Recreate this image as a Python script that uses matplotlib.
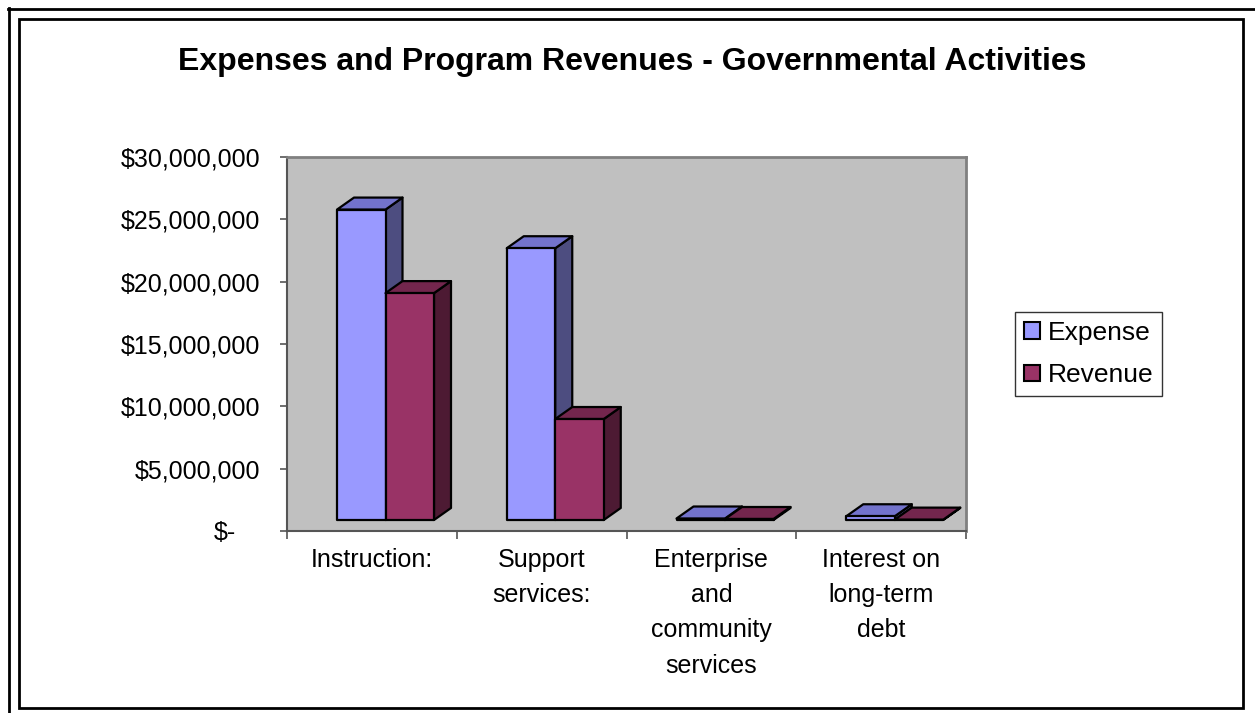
import matplotlib
matplotlib.use("Agg")
import matplotlib.pyplot as plt
from matplotlib.patches import Polygon, Patch
from matplotlib.lines import Line2D
from matplotlib.transforms import ScaledTranslation

plt.rcParams['font.family'] = ['Liberation Sans', 'DejaVu Sans']

# ---- data ----
categories = ["Instruction:", "Support\nservices:", "Enterprise\nand\ncommunity\nservices",
              "Interest on\nlong-term\ndebt"]
series_names = ["Expense", "Revenue"]
expense = [24.9e6, 21.8e6, 0.12e6, 0.30e6]
revenue = [18.2e6, 8.1e6, 0.08e6, 0.03e6]
ytick_values = [0, 5e6, 10e6, 15e6, 20e6, 25e6, 30e6]
ytick_labels = ["$-", "$5,000,000", "$10,000,000", "$15,000,000", "$20,000,000",
                "$25,000,000", "$30,000,000"]
title = "Expenses and Program Revenues - Governmental Activities"

front_colors = ["#9999FF", "#993366"]
top_colors = ["#7373CC", "#73264D"]
side_colors = ["#4D4D80", "#4D1A33"]

W, H = 1255, 713
fig = plt.figure(figsize=(W / 100, H / 100), dpi=100)
fig.patch.set_facecolor("white")

ax = fig.add_axes([287 / W, 1 - 531 / H, (966 - 287) / W, (531 - 157) / H])
ax.set_facecolor("#C0C0C0")
ax.set_xlim(0, len(categories))
ax.set_ylim(0, 30e6)

# 3D geometry (in data units)
px_x = len(categories) / (966 - 287)
px_y = 30e6 / (531 - 157)
base = 11 * px_y
dx = 17 * px_x
dy = 12 * px_y
bar_w = 48.5 * px_x
offset0 = 50 * px_x

for si, vals in enumerate([expense, revenue]):
    for ci, v in enumerate(vals):
        x0 = ci + offset0 + si * bar_w
        x1 = x0 + bar_w
        b = base
        t = base + v
        front = Polygon([(x0, b), (x1, b), (x1, t), (x0, t)], closed=True,
                        facecolor=front_colors[si], edgecolor="black", lw=1.6, joinstyle="round")
        top = Polygon([(x0, t), (x1, t), (x1 + dx, t + dy), (x0 + dx, t + dy)], closed=True,
                      facecolor=top_colors[si], edgecolor="black", lw=1.6, joinstyle="round")
        side = Polygon([(x1, b), (x1 + dx, b + dy), (x1 + dx, t + dy), (x1, t)], closed=True,
                       facecolor=side_colors[si], edgecolor="black", lw=1.6, joinstyle="round")
        for p in (side, top, front):
            ax.add_patch(p)

# axes styling
for s in ["top", "right"]:
    ax.spines[s].set_color("#808080")
    ax.spines[s].set_linewidth(2)
ax.spines["left"].set_color("#555555")
ax.spines["left"].set_linewidth(1.5)
ax.spines["bottom"].set_color("#555555")
ax.spines["bottom"].set_linewidth(1.5)

ax.set_yticks(ytick_values)
ax.set_yticklabels(ytick_labels, fontsize=18)
ax.tick_params(axis="y", direction="out", length=5, width=1.2, color="#555555", pad=14)
labels = ax.get_yticklabels()
labels[0].set_transform(labels[0].get_transform() + ScaledTranslation(-25 / 100, 0, fig.dpi_scale_trans))

ax.set_xticks(range(len(categories) + 1))
ax.set_xticklabels([])
ax.tick_params(axis="x", which="major", direction="out", length=6, width=1.2, color="#555555")
ax.set_xticks([i + 0.5 for i in range(len(categories))], minor=True)
ax.set_xticklabels(categories, minor=True, fontsize=18, linespacing=1.6, va="top")
ax.tick_params(axis="x", which="minor", length=0, pad=12)

# title
fig.text(632 / W, 1 - 62 / H, title, ha="center", va="center", fontsize=23, fontweight="bold")

# legend
handles = [Patch(facecolor=front_colors[i], edgecolor="black", lw=1.5) for i in range(2)]
leg = fig.legend(handles, series_names, loc="center", bbox_to_anchor=(1088.5 / W, 1 - 354 / H),
                 fontsize=19, frameon=True, fancybox=False, edgecolor="black",
                 handlelength=0.6, handleheight=0.6, handletextpad=0.3, labelspacing=0.7,
                 borderpad=0.33, borderaxespad=0)
leg.get_frame().set_linewidth(1.0)

# chart border
fig.add_artist(Polygon([(19 / W, 1 - 19 / H), (1243 / W, 1 - 19 / H), (1243 / W, 1 - 708 / H),
                        (19 / W, 1 - 708 / H)], closed=True, fill=False, edgecolor="black",
                       lw=2, transform=fig.transFigure))
fig.add_artist(Line2D([8 / W, 1], [1 - 8.5 / H, 1 - 8.5 / H], color="black", lw=2,
                      transform=fig.transFigure))
fig.add_artist(Line2D([8.5 / W, 8.5 / W], [0, 1 - 8 / H], color="black", lw=2,
                      transform=fig.transFigure))

fig.savefig("out.png", dpi=100)
